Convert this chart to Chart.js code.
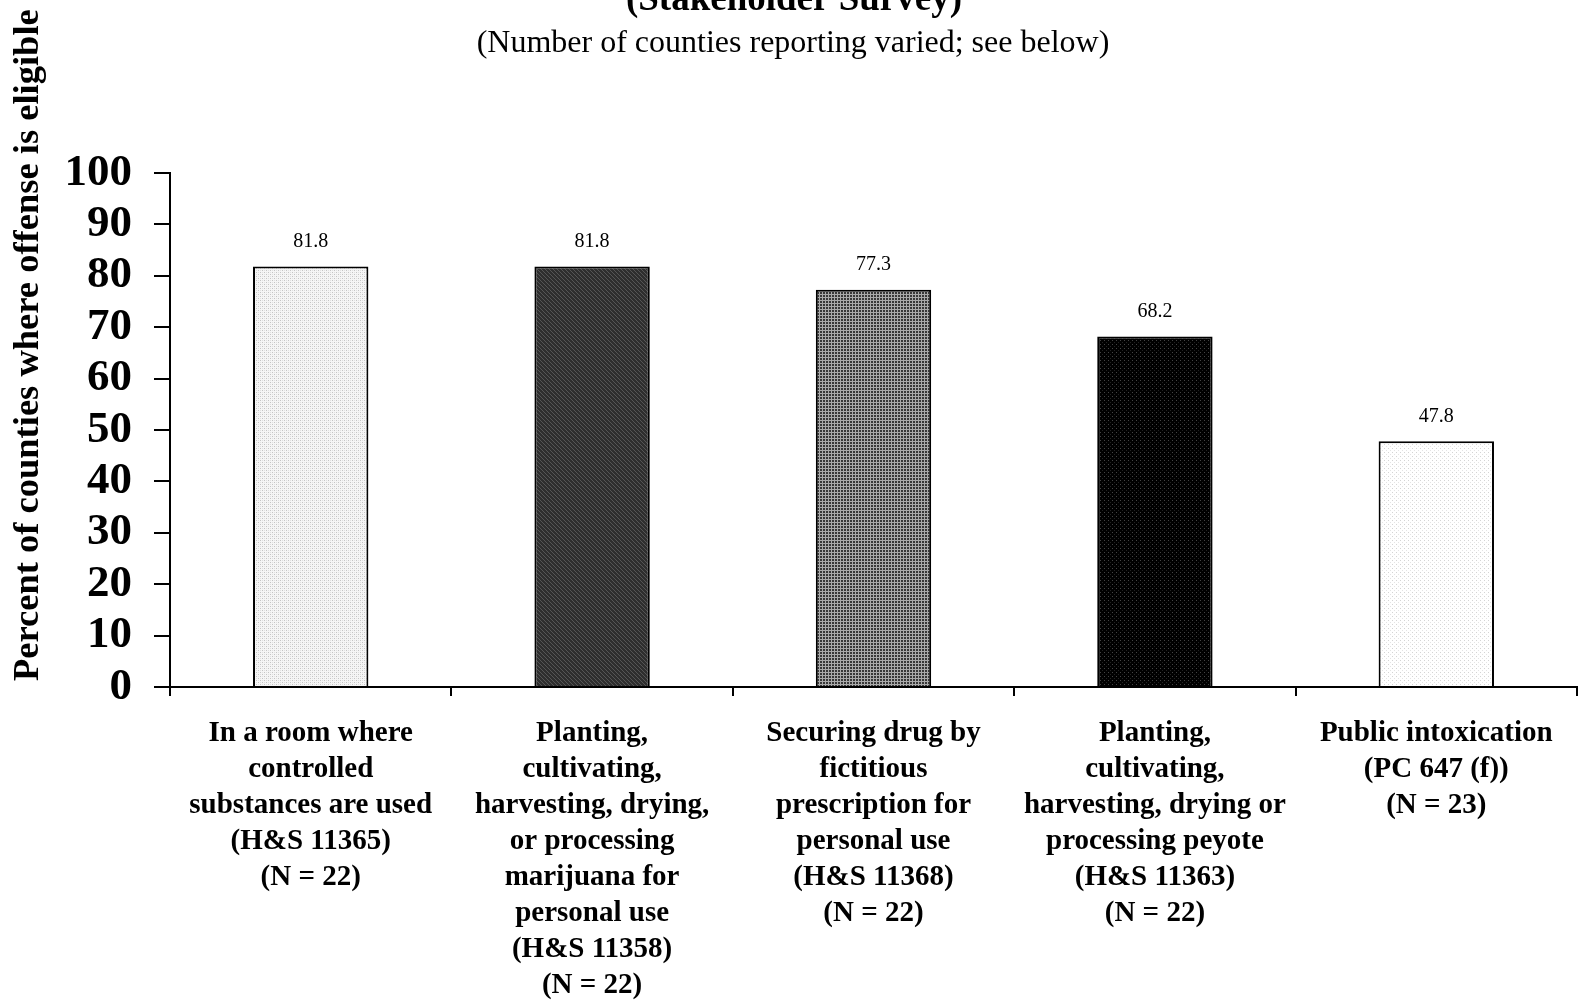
<!DOCTYPE html>
<html>
<head>
<meta charset="utf-8">
<script src="https://cdn.jsdelivr.net/npm/chart.js@4/dist/chart.umd.min.js"></script>
<style>
  html, body { margin: 0; padding: 0; background: #ffffff; }
  #wrap { width: 1578px; height: 1000px; }
</style>
</head>
<body>
<div id="wrap"><canvas id="c" width="1578" height="1000"></canvas></div>
<script>
const titleText = "(Stakeholder Survey)";
const subtitleText = "(Number of counties reporting varied; see below)";
const yAxisTitle = "Percent of counties where offense is eligible";
const categories = [
  ["In a room where", "controlled", "substances are used", "(H&S 11365)", "(N = 22)"],
  ["Planting,", "cultivating,", "harvesting, drying,", "or processing", "marijuana for", "personal use", "(H&S 11358)", "(N = 22)"],
  ["Securing drug by", "fictitious", "prescription for", "personal use", "(H&S 11368)", "(N = 22)"],
  ["Planting,", "cultivating,", "harvesting, drying or", "processing peyote", "(H&S 11363)", "(N = 22)"],
  ["Public intoxication", "(PC 647 (f))", "(N = 23)"]
];
const values = [81.8, 81.8, 77.3, 68.2, 47.8];
const yTicks = [0, 10, 20, 30, 40, 50, 60, 70, 80, 90, 100];

const SERIF = "'Liberation Serif', 'Times New Roman', serif";

function makePattern(size, base, dots) {
  const c = document.createElement('canvas');
  c.width = size; c.height = size;
  const g = c.getContext('2d');
  g.fillStyle = base;
  g.fillRect(0, 0, size, size);
  dots.forEach(d => { g.fillStyle = d[2]; g.fillRect(d[0], d[1], 1, 1); });
  return g.createPattern(c, 'repeat');
}
const patterns = [
  makePattern(4, '#f5f5f5', [[0,0,'#c4c4c4'],[2,2,'#c4c4c4'],[2,0,'#e0e0e0'],[0,2,'#e0e0e0']]),
  makePattern(4, '#2e2e2e', [[0,0,'#555555'],[1,1,'#555555'],[2,2,'#555555'],[3,3,'#555555']]),
  makePattern(3, '#383838', [[0,0,'#aaaaaa'],[1,0,'#aaaaaa'],[2,0,'#aaaaaa'],[0,1,'#aaaaaa'],[0,2,'#aaaaaa']]),
  makePattern(4, '#000000', [[0,0,'#444444'],[2,2,'#222222']]),
  makePattern(4, '#ffffff', [[0,0,'#d4d4d4'],[2,2,'#e4e4e4']])
];

const textPlugin = {
  id: 'textPlugin',
  afterDatasetsDraw(chart) {
    const ctx = chart.ctx;
    const meta = chart.getDatasetMeta(0);
    ctx.save();
    ctx.fillStyle = '#000';
    ctx.font = "20px " + SERIF;
    ctx.textAlign = 'center';
    ctx.textBaseline = 'middle';
    meta.data.forEach((bar, i) => {
      ctx.fillText(values[i].toFixed(1), bar.x, bar.y - 25);
    });
    ctx.restore();
  },
  afterDraw(chart) {
    const ctx = chart.ctx;
    ctx.save();
    ctx.fillStyle = '#000';
    ctx.textAlign = 'center';
    ctx.textBaseline = 'alphabetic';
    ctx.font = "bold 37px " + SERIF;
    ctx.fillText(titleText, 794, 10);
    ctx.font = "32px " + SERIF;
    ctx.fillText(subtitleText, 793, 52);
    ctx.translate(38, 681);
    ctx.rotate(-Math.PI / 2);
    ctx.textAlign = 'left';
    ctx.font = "bold 36.5px " + SERIF;
    ctx.fillText(yAxisTitle, 0, 0);
    ctx.restore();
  }
};

new Chart(document.getElementById('c'), {
  type: 'bar',
  data: {
    labels: categories,
    datasets: [{
      data: values,
      backgroundColor: patterns,
      borderColor: '#000000',
      borderWidth: 2,
      barPercentage: 0.41,
      categoryPercentage: 1.0
    }]
  },
  options: {
    responsive: false,
    animation: false,
    layout: { padding: { top: 173, right: 1, left: 0, bottom: 0 } },
    plugins: {
      legend: { display: false },
      title: { display: false },
      tooltip: { enabled: false }
    },
    scales: {
      x: {
        offset: true,
        grid: { offset: true, drawOnChartArea: false, drawTicks: true, tickLength: 9, color: '#000', lineWidth: 2 },
        border: { display: true, color: '#000', width: 2 },
        ticks: {
          color: '#000',
          font: { family: SERIF, size: 29, weight: 'bold', lineHeight: 1.24 },
          padding: 20,
          maxRotation: 0,
          minRotation: 0,
          autoSkip: false
        },
        afterFit(s) { s.height = 313; }
      },
      y: {
        min: 0,
        max: 100,
        afterBuildTicks(s) { s.ticks = yTicks.map(v => ({ value: v })); },
        grid: { drawOnChartArea: false, drawTicks: true, tickLength: 16, color: '#000', lineWidth: 2 },
        border: { display: true, color: '#000', width: 2 },
        ticks: {
          color: '#000',
          font: { family: SERIF, size: 45, weight: 'bold' },
          padding: 22,
          autoSkip: false
        },
        afterFit(s) { s.width = 170; }
      }
    }
  },
  plugins: [textPlugin]
});
</script>
</body>
</html>
